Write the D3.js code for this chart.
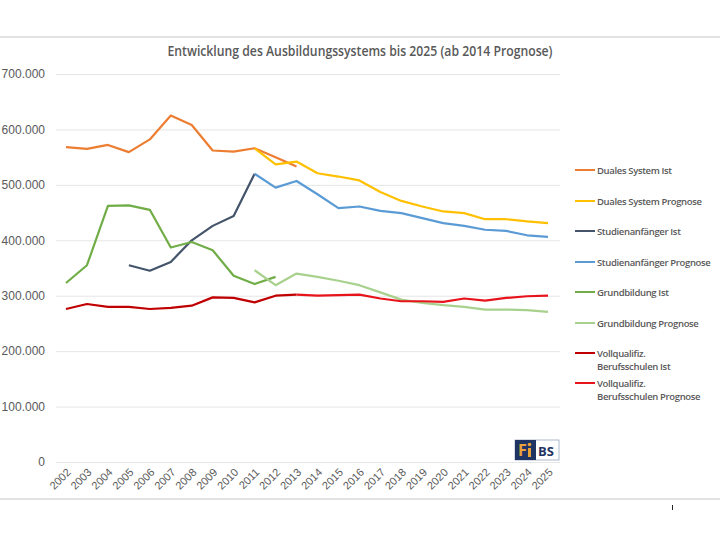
<!DOCTYPE html>
<html>
<head>
<meta charset="utf-8">
<script src="https://cdn.jsdelivr.net/npm/d3@7"></script>
<style>
  body { margin: 0; background: #fff; }
  svg { display: block; font-family: "Open Sans", sans-serif; }
</style>
</head>
<body>
<svg id="chart" width="720" height="540"></svg>
<script>
// years on the x axis
var years = d3.range(2002, 2026);

// series values (null = no value)
var dualesIst = [568000, 565000, 572000, 559000, 582000, 625000, 608000, 562000, 560000, 566000, 550000, 533000];
var dualesPrognose = [null, null, null, null, null, null, null, null, null, 566000, 537000, 542000, 521000, 515000, 508000, 487000, 471000, 461000, 452000, 449000, 438000, 438000, 434000, 431000];
var studIst = [null, null, null, 355000, 345000, 361000, 400000, 426000, 444000, 520000];
var studPrognose = [null, null, null, null, null, null, null, null, null, 520000, 495000, 507000, 483000, 458000, 461000, 453000, 449000, 440000, 431000, 426000, 419000, 417000, 409000, 406000];
var grundIst = [323000, 355000, 462000, 463000, 455000, 387000, 397000, 382000, 336000, 321000, 334000];
var grundPrognose = [null, null, null, null, null, null, null, null, null, 346000, 319000, 340000, 334000, 327000, 319000, 306000, 293000, 287000, 283000, 280000, 275000, 275000, 274000, 271000];
var vollIst = [276000, 285000, 280000, 280000, 276000, 278000, 282000, 297000, 296000, 288000, 300000, 302000];
var vollPrognose = [null, null, null, null, null, null, null, null, null, null, null, 302000, 300000, 301000, 302000, 295000, 290000, 290000, 289000, 295000, 291000, 296000, 299000, 300000];

var yTicks = [0, 100000, 200000, 300000, 400000, 500000, 600000, 700000];

var series = [
  { name: ["Duales System Ist"], values: dualesIst, color: "#ED7D31" },
  { name: ["Duales System Prognose"], values: dualesPrognose, color: "#FFC000" },
  { name: ["Studienanfänger Ist"], values: studIst, color: "#44546A" },
  { name: ["Studienanfänger Prognose"], values: studPrognose, color: "#5B9BD5" },
  { name: ["Grundbildung Ist"], values: grundIst, color: "#70AD47" },
  { name: ["Grundbildung Prognose"], values: grundPrognose, color: "#A9D18E" },
  { name: ["Vollqualifiz.", "Berufsschulen Ist"], values: vollIst, color: "#C00000" },
  { name: ["Vollqualifiz.", "Berufsschulen Prognose"], values: vollPrognose, color: "#E8141B" }
];

var svg = d3.select("#chart");
var grey = "#595959";

// frame lines
svg.append("line").attr("x1", 0).attr("x2", 720).attr("y1", 37).attr("y2", 37)
   .attr("stroke", "#d9d9d9").attr("stroke-width", 1.5);
svg.append("line").attr("x1", 0).attr("x2", 720).attr("y1", 499).attr("y2", 499)
   .attr("stroke", "#d9d9d9").attr("stroke-width", 1.5);
svg.append("line").attr("x1", 672.5).attr("x2", 672.5).attr("y1", 505).attr("y2", 510)
   .attr("stroke", "#222").attr("stroke-width", 1);

var x = d3.scalePoint().domain(years).range([66, 548]);
var y = d3.scaleLinear().domain([0, 700000]).range([462, 74]);

// title
svg.append("text")
   .attr("x", 360).attr("y", 56)
   .attr("text-anchor", "middle")
   .attr("font-size", 14).attr("font-weight", 600)
   .attr("fill", grey)
   .attr("textLength", 385).attr("lengthAdjust", "spacingAndGlyphs")
   .text("Entwicklung des Ausbildungssystems bis 2025 (ab 2014 Prognose)");

// grid + y axis
var yAxis = d3.axisLeft(y).tickValues(yTicks)
  .tickSize(-504)
  .tickFormat(function (d) { return d === 0 ? "0" : d3.format(",")(d).replace(/,/g, "."); });

var gy = svg.append("g").attr("transform", "translate(56,0)").call(yAxis);
gy.select(".domain").remove();
gy.selectAll(".tick line").attr("stroke", "#e6e6e6");
gy.selectAll(".tick text").attr("x", -11).attr("fill", grey)
  .attr("font-size", 12).attr("font-weight", 500);

// x axis
var xAxis = d3.axisBottom(x).tickSize(0).tickPadding(0);
var gx = svg.append("g").attr("transform", "translate(0,462)").call(xAxis);
gx.select(".domain").remove();
gx.selectAll(".tick text")
  .attr("fill", grey).attr("font-size", 11).attr("font-weight", 500)
  .attr("text-anchor", "end")
  .attr("dy", 0)
  .attr("transform", "translate(5,11) rotate(-45)");

// lines
var line = d3.line()
  .defined(function (d) { return d.v != null; })
  .x(function (d) { return x(d.year); })
  .y(function (d) { return y(d.v); });

svg.append("g").selectAll("path")
  .data(series)
  .enter()
  .append("path")
  .attr("fill", "none")
  .attr("stroke", function (s) { return s.color; })
  .attr("stroke-width", 2.2)
  .attr("stroke-linejoin", "round")
  .attr("d", function (s) {
    return line(s.values.map(function (v, i) { return { year: years[i], v: v }; }));
  });

// legend
var legendY = [170, 201, 231, 262, 292, 323, 353, 383];
var lg = svg.append("g").selectAll("g")
  .data(series)
  .enter()
  .append("g")
  .attr("transform", function (s, i) { return "translate(575," + legendY[i] + ")"; });

lg.append("line").attr("x1", 0).attr("x2", 20).attr("y1", 0).attr("y2", 0)
  .attr("stroke", function (s) { return s.color; }).attr("stroke-width", 2);

lg.each(function (s) {
  var t = d3.select(this).append("text")
    .attr("x", 22).attr("y", 3.5)
    .attr("fill", grey).attr("font-size", 9.5).attr("font-weight", 600)
    .attr("letter-spacing", -0.35);
  s.name.forEach(function (n, k) {
    t.append("tspan").attr("x", 22).attr("dy", k === 0 ? 0 : 13).text(n);
  });
});

// logo
var logo = svg.append("g").attr("transform", "translate(515,440)");
logo.append("rect").attr("x", 0).attr("y", 0).attr("width", 44).attr("height", 20)
  .attr("fill", "#fff").attr("stroke", "#9aa7bd").attr("stroke-width", 0.8);
logo.append("rect").attr("x", 0).attr("y", 0).attr("width", 21).attr("height", 20)
  .attr("fill", "#1f3463");
logo.append("text").attr("x", 3).attr("y", 16).attr("fill", "#e8a33a")
  .attr("font-size", 16).attr("font-weight", 700).text("F");
logo.append("rect").attr("x", 13).attr("y", 8).attr("width", 3).attr("height", 9)
  .attr("fill", "#e8a33a");
logo.append("circle").attr("cx", 14.5).attr("cy", 4.5).attr("r", 1.8).attr("fill", "#e8a33a");
logo.append("text").attr("x", 23).attr("y", 15.5).attr("fill", "#1f3463")
  .attr("font-size", 13).attr("font-weight", 700).text("BS");
</script>
</body>
</html>
